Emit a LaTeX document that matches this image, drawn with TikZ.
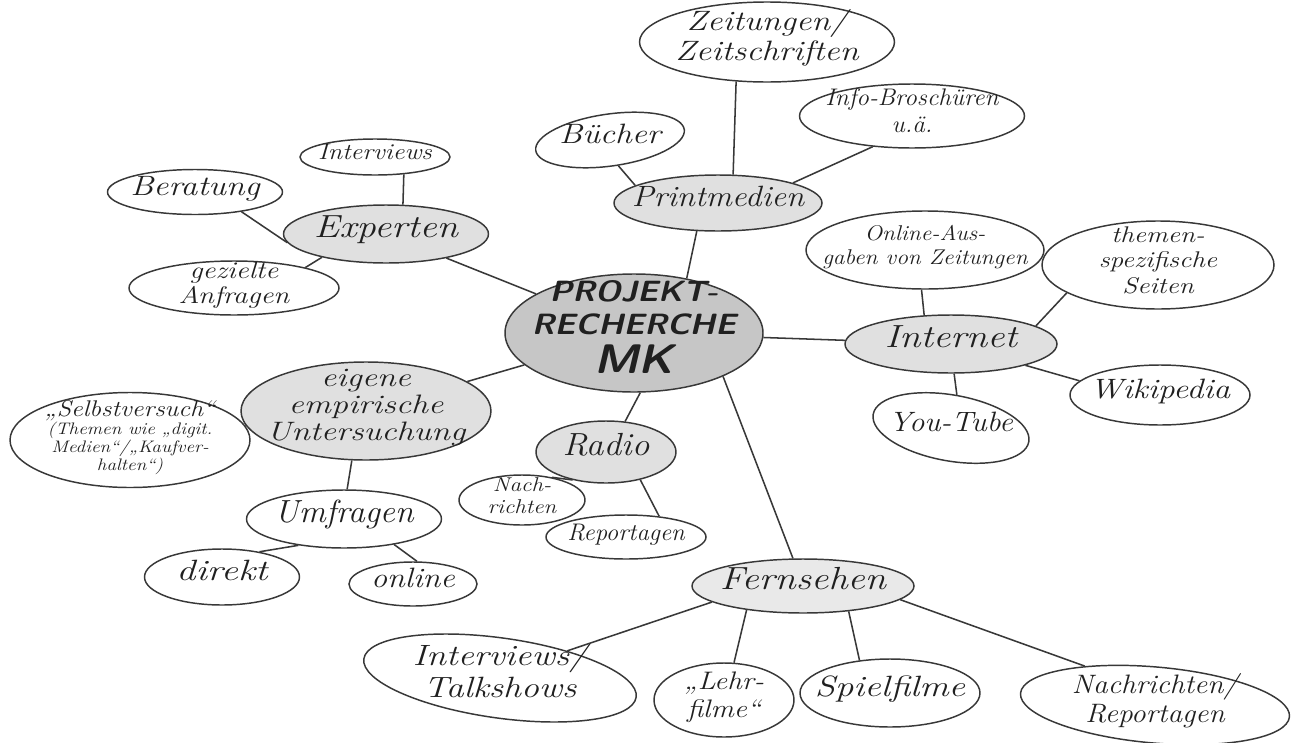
\documentclass[tikz,border=0pt]{standalone}
\usepackage{graphicx}
\usetikzlibrary{shapes.geometric}
\definecolor{linec}{HTML}{383838}
\definecolor{inkc}{HTML}{202020}
\definecolor{hubfill}{HTML}{E0E0E0}
\definecolor{corefill}{HTML}{C6C6C6}
% centred, zero-size text block, stretched horizontally by #1
\newcommand{\mmbox}[3][1.2]{\smash{\makebox[0pt]{\raisebox{-.35ex}{\scalebox{#1}[1]{\begin{tabular}{@{}c@{}}#3\end{tabular}}}}}}
\newcommand{\fs}[1]{\fontsize{#1}{#1}\selectfont}
\tikzset{
  bub/.style={ellipse, draw=linec, line width=1.1pt, inner sep=0pt, text=inkc,
              font=\fontsize{21}{23}\selectfont\itshape},
  hub/.style={bub, fill=hubfill, font=\fontsize{24}{26}\selectfont\itshape},
  sz/.style 2 args={minimum width=#1*0.75pt, minimum height=#2*0.75pt},
  link/.style={draw=linec, line width=1.15pt},
}
\begin{document}
\begin{tikzpicture}[x=0.75pt,y=-0.75pt]
\fill[white] (0,0) rectangle (1297,743);
\useasboundingbox (0,0) rectangle (1297,743);

% centre
\node[bub, fill=corefill, sz={258}{118}, font=\fontsize{22}{25}\selectfont\sffamily\bfseries\slshape] (c) at (634,333)
  {\mmbox[1.1]{}{PROJEKT-\\RECHERCHE\\{\fontsize{31}{30}\selectfont MK}}};

% Printmedien
\node[hub, sz={208}{56}, font=\fontsize{22}{24}\selectfont\itshape] (print) at (718,203) {\mmbox[1.12]{}{Printmedien}};
\node[bub, sz={255}{80}] (zeit) at (767,42) {\mmbox[1.22]{}{Zeitungen/\\Zeitschriften}};
\node[bub, sz={225}{64}, font=\fontsize{18}{20}\selectfont\itshape] (info) at (912,116) {\mmbox[1.05]{}{Info-Broschüren\\u.ä.}};
\node[bub, sz={150}{52}, rotate=8] (buecher) at (610,140) {\rotatebox{-8}{\mmbox[1.2]{}{Bücher}}};

% Experten
\node[hub, sz={205}{58}] (exp) at (386,234) {\mmbox[1.2]{}{Experten}};
\node[bub, sz={150}{36}, font=\fontsize{17}{19}\selectfont\itshape] (interv) at (375,157) {\mmbox[1.15]{}{Interviews}};
\node[bub, sz={175}{45}] (berat) at (195,192) {\mmbox[1.2]{}{Beratung}};
\node[bub, sz={210}{54}, font=\fontsize{18}{19}\selectfont\itshape] (gez) at (234,288) {\mmbox[1.2]{}{gezielte\\Anfragen}};

% Internet
\node[hub, sz={212}{58}] (int) at (951,344) {\mmbox[1.2]{}{Internet}};
\node[bub, sz={238}{78}, font=\fontsize{16}{18}\selectfont\itshape] (online) at (925,250) {\mmbox[1.1]{}{Online-Aus-\\gaben von Zeitungen}};
\node[bub, sz={232}{88}, font=\fontsize{17}{19}\selectfont\itshape] (themen) at (1158,265) {\mmbox[1.2]{}{themen-\\spezifische\\Seiten}};
\node[bub, sz={180}{60}] (wiki) at (1160,395) {\mmbox[1.2]{}{Wikipedia}};
\node[bub, sz={158}{66}, rotate=-10] (yt) at (951,428) {\rotatebox{10}{\mmbox[1.1]{}{You-Tube}}};

% eigene empirische Untersuchung
\node[hub, sz={250}{98}, font=\fontsize{20}{20}\selectfont\itshape] (eig) at (366,411) {\mmbox[1.27]{}{eigene\\empirische\\Untersuchung}};
\node[bub, sz={240}{95}, font=\fontsize{12.5}{13.5}\selectfont\itshape] (selbst) at (130,440)
  {\mmbox[1.15]{}{{\fs{17}„Selbstversuch“}\\(Themen wie „digit.\\Medien“/„Kaufver-\\halten“)}};
\node[bub, sz={195}{58}, font=\fontsize{24}{26}\selectfont\itshape] (umfr) at (344,519) {\mmbox[1.05]{}{Umfragen}};
\node[bub, sz={155}{56}, font=\fontsize{22}{24}\selectfont\itshape] (direkt) at (222,577) {\mmbox[1.3]{}{direkt}};
\node[bub, sz={128}{44}] (onl) at (413,584) {\mmbox[1.15]{}{online}};

% Radio
\node[hub, sz={140}{62}] (radio) at (606,452) {\mmbox[1.1]{}{Radio}};
\node[bub, sz={126}{50}, font=\fontsize{15}{16}\selectfont\itshape] (nach) at (522,500) {\mmbox[1.15]{}{Nach-\\richten}};
\node[bub, sz={160}{44}, font=\fontsize{18}{20}\selectfont\itshape] (rep) at (626,537) {\mmbox[1.03]{}{Reportagen}};

% Fernsehen
\node[hub, sz={222}{54}, fill=hubfill!70!white] (fern) at (803,586) {\mmbox[1.2]{}{Fernsehen}};
\node[bub, sz={275}{80}, rotate=-8, font=\fontsize{22}{24}\selectfont\itshape] (tv1) at (500,678) {\rotatebox{8}{\mmbox[1.22]{}{Interviews/\\Talkshows}}};
\node[bub, sz={140}{74}, font=\fontsize{19}{21}\selectfont\itshape] (lehr) at (724,700) {\mmbox[1.15]{}{„Lehr-\\filme“}};
\node[bub, sz={180}{68}, font=\fontsize{22}{24}\selectfont\itshape] (spiel) at (890,693) {\mmbox[1.25]{}{Spielfilme}};
\node[bub, sz={270}{76}, rotate=-5, font=\fontsize{20}{22}\selectfont\itshape] (nachrep) at (1155,705) {\rotatebox{5}{\mmbox[1.1]{}{Nachrichten/\\Reportagen}}};

% connectors
\draw[link] (c.46) -- (print.233);
\draw[link] (print.168) -- (buecher.-80);
\draw[link] (print.62) -- (zeit.232);
\draw[link] (print.15) -- (info.218);

\draw[link] (c) -- (exp);
\draw[link] (exp.60) -- (interv.-31);
\draw[link] (exp.185) -- (berat.-23);
\draw[link] (exp.200) -- (gez.16);

\draw[link] (c) -- (int);
\draw[link] (int.133) -- (online.265);
\draw[link] (int.12) -- (themen.197);
\draw[link] (int.-16) -- (wiki.170);
\draw[link] (int.-84) -- (yt.90);

\draw[link] (c) -- (eig);
\draw[link] (eig) -- (selbst);
\draw[link] (eig.254) -- (umfr.84);
\draw[link] (umfr.210) -- (direkt.34);
\draw[link] (umfr.-27) -- (onl.80);

\draw[link] (c.-84) -- (radio.58);
\draw[link] (radio.220) -- (nach.37);
\draw[link] (radio.-39) -- (rep.32);

\draw[link] (c.-26) -- (fern.110);
\draw[link] (fern.190) -- (tv1.30);
\draw[link] (fern.203) -- (lehr.75);
\draw[link] (fern.-29) -- (spiel.133);
\draw[link] (fern.-8) -- (nachrep.156);
\end{tikzpicture}
\end{document}
